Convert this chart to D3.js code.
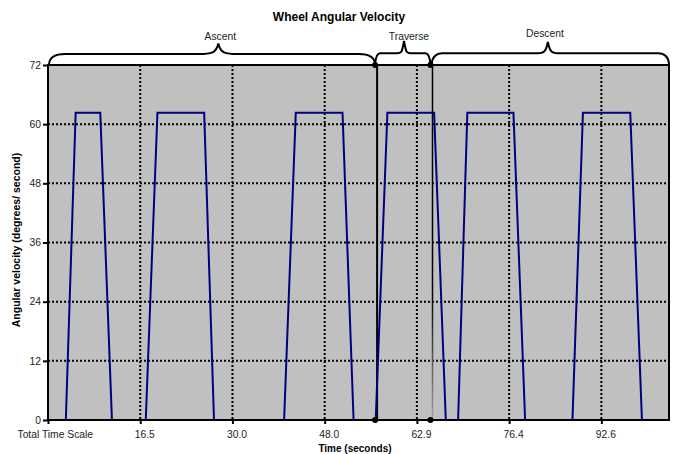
<!DOCTYPE html>
<html>
<head>
<meta charset="utf-8">
<script src="https://cdn.jsdelivr.net/npm/d3@7"></script>
<style>
body { margin: 0; background: #fff; }
text { font-family: "Liberation Sans", Arial, sans-serif; }
</style>
</head>
<body>
<svg></svg>
<script>
// time values (sample units) and wheel angular velocity (deg/s)
var timeValues = [0, 2.9, 4.5, 8.5, 10.4, 15.9, 17.8, 25.4, 27.0, 38.4, 40.3, 47.9, 49.7,
	53.3, 55.2, 62.8, 64.7, 66.7, 68.2, 75.7, 77.6, 85.3, 87.0, 94.7, 96.6, 101]
var velocityValues = [0, 0, 62.3, 62.3, 0, 0, 62.3, 62.3, 0, 0, 62.3, 62.3, 0,
	0, 62.3, 62.3, 0, 0, 62.3, 62.3, 0, 0, 62.3, 62.3, 0, 0]

var xTickValues = [0, 15, 30, 45, 60, 75, 90]
var xTickLabels = ['Total Time Scale', '16.5', '30.0', '48.0', '62.9', '76.4', '92.6']
var yTickValues = [0, 12, 24, 36, 48, 60, 72]

var phaseNames = ['Ascent', 'Traverse', 'Descent']
var phaseStart = [0, 53.2, 62.4]
var phaseEnd = [53.2, 62.2, 101]
var phaseTip = [27.7, 57.9, 81.3]

var markerTimes = [53.2, 62.2]

var width = 674, height = 454
var margin = {top: 65, right: 5, bottom: 34, left: 48}

var svg = d3.select('svg').attr('width', width).attr('height', height)

var x = d3.scaleLinear().domain([0, 101]).range([margin.left, width - margin.right])
var y = d3.scaleLinear().domain([0, 72]).range([height - margin.bottom, margin.top])

// plot background
svg.append('rect')
	.attr('x', x(0)).attr('y', y(72))
	.attr('width', x(101) - x(0)).attr('height', y(0) - y(72))
	.attr('fill', '#c0c0c0')

// dotted grid
svg.append('g').selectAll('line')
	.data(yTickValues.slice(1, -1))
	.enter().append('line')
	.attr('x1', x(0)).attr('x2', x(101))
	.attr('y1', function(d) {return y(d)}).attr('y2', function(d) {return y(d)})
	.attr('stroke', '#000').attr('stroke-width', 2).attr('stroke-dasharray', '2,2')

svg.append('g').selectAll('line')
	.data(xTickValues.slice(1))
	.enter().append('line')
	.attr('x1', function(d) {return x(d)}).attr('x2', function(d) {return x(d)})
	.attr('y1', y(72)).attr('y2', y(0))
	.attr('stroke', '#000').attr('stroke-width', 2).attr('stroke-dasharray', '2,2')

// phase marker lines
svg.append('line')
	.attr('x1', x(markerTimes[0]) + 2).attr('x2', x(markerTimes[0]) + 2)
	.attr('y1', y(72)).attr('y2', y(0))
	.attr('stroke', '#000').attr('stroke-width', 2)

// second marker: black at the top, fading to grey near the axis
var fadeX = Math.round(x(markerTimes[1]) + 1.6) + 0.5
var fadeFrom = y(26)
var grad = svg.append('defs').append('linearGradient')
	.attr('id', 'fade').attr('gradientUnits', 'userSpaceOnUse')
	.attr('x1', fadeX).attr('x2', fadeX).attr('y1', fadeFrom).attr('y2', y(0))
grad.append('stop').attr('offset', '0%').attr('stop-color', '#000')
grad.append('stop').attr('offset', '100%').attr('stop-color', '#a0a0a0')

svg.append('line')
	.attr('x1', fadeX).attr('x2', fadeX)
	.attr('y1', y(72)).attr('y2', fadeFrom)
	.attr('stroke', '#000').attr('stroke-width', 1.5)
svg.append('rect')
	.attr('x', fadeX - 0.75).attr('y', fadeFrom)
	.attr('width', 1.5).attr('height', y(0) - fadeFrom)
	.attr('fill', 'url(#fade)')

// velocity series
var line = d3.line()
	.x(function(d, i) {return x(timeValues[i])})
	.y(function(d) {return y(d)})

svg.append('path')
	.datum(velocityValues)
	.attr('d', line)
	.attr('fill', 'none')
	.attr('stroke', '#000080')
	.attr('stroke-width', 2)

// plot border
svg.append('rect')
	.attr('x', x(0)).attr('y', y(72))
	.attr('width', x(101) - x(0)).attr('height', y(0) - y(72))
	.attr('fill', 'none').attr('stroke', '#000').attr('stroke-width', 2)

// dots at phase boundaries
var dots = []
markerTimes.forEach(function(t) {dots.push([t, 0]); dots.push([t, 72])})
svg.append('g').selectAll('circle')
	.data(dots)
	.enter().append('circle')
	.attr('cx', function(d) {return x(d[0])})
	.attr('cy', function(d) {return y(d[1])})
	.attr('r', 3)
	.attr('fill', '#000')

// axes
var yAxis = d3.axisLeft(y).tickValues(yTickValues).tickSize(5).tickPadding(2)
var gy = svg.append('g').attr('transform', 'translate(' + x(0) + ',0)').call(yAxis)
gy.select('.domain').remove()
gy.selectAll('line').attr('stroke', '#000').attr('stroke-width', 2)
gy.selectAll('text').attr('font-size', 10.3).attr('fill', '#222')

var xAxis = d3.axisBottom(x).tickValues(xTickValues).tickSize(4).tickPadding(7)
	.tickFormat(function(d, i) {return xTickLabels[i]})
var gx = svg.append('g').attr('transform', 'translate(0,' + y(0) + ')').call(xAxis)
gx.select('.domain').remove()
gx.selectAll('line').attr('stroke', '#000').attr('stroke-width', 2)
gx.selectAll('text').attr('font-size', 10.3).attr('fill', '#222')
	.attr('dx', 4)
gx.selectAll('text').filter(function(d, i) {return i === 0})
	.attr('text-anchor', 'start').attr('dx', 0)
	.attr('x', 17 - x(0))

// curly braces above the plot
function bracePath(x1, x2, tip, base, flat, peak, r, w) {
	var p = d3.path()
	p.moveTo(x1, base)
	p.quadraticCurveTo(x1 + 1, flat, x1 + r, flat)
	p.lineTo(tip - w, flat)
	p.bezierCurveTo(tip - w / 3, flat, tip - 2, flat - 1, tip, peak)
	p.bezierCurveTo(tip + 2, flat - 1, tip + w / 3, flat, tip + w, flat)
	p.lineTo(x2 - r, flat)
	p.quadraticCurveTo(x2 - 1, flat, x2, base)
	return p.toString()
}

var braceFlat = [54, 53.3, 53.3]
var bracePeak = [43.5, 41, 42]
var braceR = [16, 5, 11]
var braceW = [20, 7, 12]
var labelBase = [39.5, 39.5, 37]
var labelShift = [2, 5, -3]

var braces = svg.append('g')
phaseNames.forEach(function(name, i) {
	var x1 = x(phaseStart[i]) + (i === 0 ? 1 : 0)
	var x2 = x(phaseEnd[i])
	braces.append('path')
		.attr('d', bracePath(x1, x2, x(phaseTip[i]), y(72) - 1, braceFlat[i], bracePeak[i], braceR[i], braceW[i]))
		.attr('fill', 'none').attr('stroke', '#000').attr('stroke-width', 2)
	braces.append('text')
		.attr('x', x(phaseTip[i]) + labelShift[i]).attr('y', labelBase[i])
		.attr('text-anchor', 'middle').attr('font-size', 10.3).attr('fill', '#222')
		.text(name)
})

// titles
svg.append('text')
	.attr('x', 339).attr('y', 21)
	.attr('text-anchor', 'middle').attr('font-size', 12).attr('font-weight', 'bold')
	.text('Wheel Angular Velocity')

svg.append('text')
	.attr('x', 355).attr('y', 452)
	.attr('text-anchor', 'middle').attr('font-size', 10).attr('font-weight', 'bold')
	.text('Time (seconds)')

svg.append('text')
	.attr('transform', 'translate(20,240) rotate(-90)')
	.attr('text-anchor', 'middle').attr('font-size', 10.5).attr('font-weight', 'bold')
	.text('Angular velocity (degrees/ second)')
</script>
</body>
</html>
